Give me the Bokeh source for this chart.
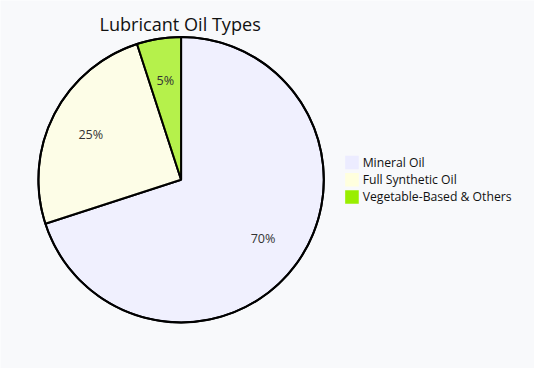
import numpy as np
from bokeh.plotting import figure
from bokeh.models import ColumnDataSource, Range1d
from bokeh.core.properties import value
from bokeh.embed import file_html
from bokeh.resources import INLINE

title = "Lubricant Oil Types"
categories = ["Mineral Oil", "Full Synthetic Oil", "Vegetable-Based & Others"]
values = [70, 25, 5]
colors = ["#ececff", "#ffffde", "#99ee00"]

W, H = 534, 368
RW, RH = 550, 384  # layout coordinates (reference pixel space)
BG = "#f8f9fb"
FONT = "Open Sans"
k = W / RW

p = figure(width=W, height=H, output_backend="svg", toolbar_location=None,
           x_range=Range1d(0, RW), y_range=Range1d(0, RH), min_border=0)
p.axis.visible = False
p.grid.visible = False
p.outline_line_color = None
p.background_fill_color = BG
p.border_fill_color = BG

def Y(y):
    return RH - y

cx, cy, r = 186, Y(187), 147
vals = np.array(values, dtype=float)
frac = vals / vals.sum()
cum = np.concatenate([[0], np.cumsum(frac)])
start = np.pi / 2 - cum[:-1] * 2 * np.pi
end = np.pi / 2 - cum[1:] * 2 * np.pi
mid = (start + end) / 2
lr = 0.71 * r
src = ColumnDataSource(dict(
    start=start, end=end, color=colors,
    lx=cx + lr * np.cos(mid), ly=cy + lr * np.sin(mid),
    label=[f"{v:.0f}%" for v in frac * 100],
))
p.wedge(x=cx, y=cy, radius=r, start_angle="start", end_angle="end",
        direction="clock", fill_color="color", fill_alpha=0.7,
        line_color="black", line_width=2, source=src)
p.circle(x=cx, y=cy, radius=r, fill_color=None, line_color="black", line_width=2)
p.text(x="lx", y="ly", text="label", source=src, text_align="center",
       text_baseline="middle", text_font=value(FONT), text_font_size=f"{13*k:.1f}px",
       text_color="#333333")

# title
p.text(x=[185], y=[Y(24)], text=[title], text_align="center", text_baseline="middle",
       text_font=value(FONT), text_font_size=f"{18.6*k:.1f}px", text_color="#111111")

# legend
step = 18
lsrc = ColumnDataSource(dict(
    y=[Y(169 + i * step) for i in range(len(categories))],
    name=categories, color=colors,
))
p.rect(x=362, y="y", width=14, height=14, fill_color="color", line_color=None, source=lsrc)
p.text(x=373, y="y", text="name", source=lsrc, text_baseline="middle",
       text_font=value(FONT), text_font_size=f"{12.6*k:.1f}px", text_color="#111111")

open("out.html", "w").write(file_html(p, INLINE))
